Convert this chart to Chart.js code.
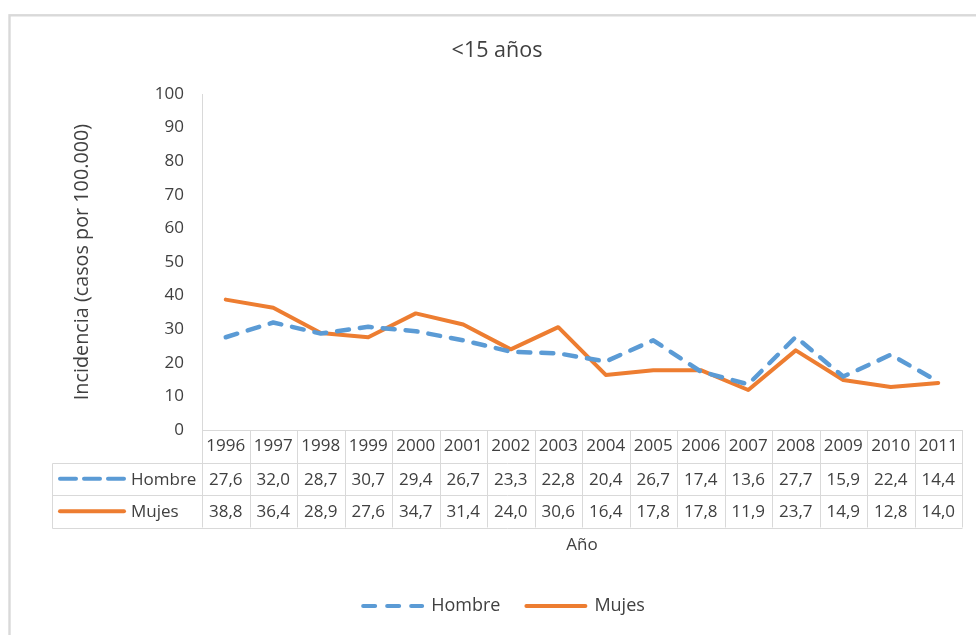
<!DOCTYPE html>
<html>
<head>
<meta charset="utf-8">
<script src="https://cdn.jsdelivr.net/npm/chart.js@4.4.1/dist/chart.umd.min.js"></script>
<style>
html,body{margin:0;padding:0;background:#ffffff;}
#wrap{width:976px;height:635px;position:relative;}
</style>
</head>
<body>
<div id="wrap"><canvas id="c" width="976" height="635"></canvas></div>
<script>
// ---- data ----
const years = ['1996','1997','1998','1999','2000','2001','2002','2003','2004','2005','2006','2007','2008','2009','2010','2011'];
const hombre = [27.6,32.0,28.7,30.7,29.4,26.7,23.3,22.8,20.4,26.7,17.4,13.6,27.7,15.9,22.4,14.4];
const mujes  = [38.8,36.4,28.9,27.6,34.7,31.4,24.0,30.6,16.4,17.8,17.8,11.9,23.7,14.9,12.8,14.0];
const seriesNames = ['Hombre','Mujes'];
const chartTitle = '<15 años';
const yAxisTitle = 'Incidencia (casos por 100.000)';
const xAxisTitle = 'Año';
const yMin = 0, yMax = 100, yStep = 10;

// ---- styles ----
const FONT = 'Open Sans';
const TEXT = '#404040';
const GRID = '#D9D9D9';
const BLUE = '#5B9BD5';
const ORANGE = '#ED7D31';

const fmt = v => v.toFixed(1).replace('.', ',');

const framePlugin = {
  id: 'frame',
  beforeDraw(chart) {
    const ctx = chart.ctx;
    ctx.save();
    ctx.fillStyle = '#ffffff';
    ctx.fillRect(0, 0, chart.width, chart.height);
    ctx.strokeStyle = GRID;
    ctx.lineWidth = 2.4;
    ctx.strokeRect(9.5, 15.3, 1100, 800);
    ctx.restore();
  }
};

const legendShift = {
  id: 'legendShift',
  afterLayout(chart) {
    if (chart.legend) { chart.legend.left += 7; chart.legend.right += 7; }
  }
};

const tablePlugin = {
  id: 'dataTable',
  afterDraw(chart) {
    const ctx = chart.ctx;
    const xs = chart.scales.x;
    const area = chart.chartArea;
    const n = years.length;
    const half = (xs.getPixelForValue(1) - xs.getPixelForValue(0)) / 2;
    const top = area.bottom;
    const rowH = 32.5;
    const r1 = top + rowH, r2 = top + 2 * rowH, r3 = top + 3 * rowH;
    const labLeft = 52;
    ctx.save();
    ctx.strokeStyle = GRID;
    ctx.lineWidth = 1;
    ctx.setLineDash([]);
    for (let i = 0; i <= n; i++) {
      const bx = Math.round(xs.getPixelForValue(Math.min(i, n - 1)) + (i === n ? half : -half)) + 0.5;
      ctx.beginPath(); ctx.moveTo(bx, top); ctx.lineTo(bx, r3); ctx.stroke();
    }
    const rightEdge = Math.round(xs.getPixelForValue(n - 1) + half) + 0.5;
    [r1, r2, r3].forEach(yy => {
      const y = Math.round(yy) + 0.5;
      ctx.beginPath(); ctx.moveTo(labLeft + 0.5, y); ctx.lineTo(rightEdge, y); ctx.stroke();
    });
    ctx.beginPath(); ctx.moveTo(labLeft + 0.5, Math.round(r1) + 0.5); ctx.lineTo(labLeft + 0.5, Math.round(r3) + 0.5); ctx.stroke();

    ctx.font = '17px "' + FONT + '"';
    ctx.fillStyle = TEXT;
    ctx.textAlign = 'center';
    ctx.textBaseline = 'middle';
    const rows = [hombre, mujes];
    rows.forEach((arr, r) => {
      const cy = top + rowH * (r + 1.5);
      arr.forEach((v, i) => ctx.fillText(fmt(v), xs.getPixelForValue(i), cy + 1));
    });
    const ds = chart.data.datasets;
    rows.forEach((arr, r) => {
      const cy = top + rowH * (r + 1.5);
      ctx.save();
      ctx.strokeStyle = ds[r].borderColor;
      ctx.lineWidth = 4;
      ctx.lineCap = 'round';
      ctx.setLineDash(r === 0 ? [16, 8] : []);
      ctx.beginPath(); ctx.moveTo(60, cy); ctx.lineTo(124, cy); ctx.stroke();
      ctx.restore();
      ctx.textAlign = 'left';
      ctx.fillStyle = TEXT;
      ctx.fillText(seriesNames[r], 131, cy + 1);
    });
    ctx.restore();
  }
};

new Chart(document.getElementById('c'), {
  type: 'line',
  data: {
    labels: years,
    datasets: [
      { label: seriesNames[0], data: hombre, borderColor: BLUE, backgroundColor: BLUE,
        borderWidth: 4.5, borderDash: [12, 11], borderCapStyle: 'round', borderJoinStyle: 'round',
        pointRadius: 0, pointHoverRadius: 0, tension: 0, fill: false },
      { label: seriesNames[1], data: mujes, borderColor: ORANGE, backgroundColor: ORANGE,
        borderWidth: 4, borderCapStyle: 'round', borderJoinStyle: 'round',
        pointRadius: 0, pointHoverRadius: 0, tension: 0, fill: false }
    ]
  },
  options: {
    responsive: false,
    animation: false,
    devicePixelRatio: 1,
    layout: { padding: { left: 18, right: 0, top: 0, bottom: 10 } },
    plugins: {
      title: { display: true, text: chartTitle, color: TEXT,
        font: { family: FONT, size: 21.5, weight: 'normal' }, padding: { top: 38, bottom: 30.2 } },
      legend: { display: true, position: 'bottom',
        labels: { usePointStyle: true, pointStyle: 'line', pointStyleWidth: 59, padding: 26,
          color: TEXT, font: { family: FONT, size: 18 },
          generateLabels(chart) {
            const items = Chart.defaults.plugins.legend.labels.generateLabels(chart);
            items.forEach((it, i) => {
              const d = chart.data.datasets[it.datasetIndex];
              it.lineDash = i === 0 ? [12, 12] : [];
              it.lineCap = 'round';
              it.lineWidth = 4;
              it.strokeStyle = d.borderColor;
              it.fillStyle = d.borderColor;
              it.pointStyle = 'line';
            });
            return items;
          } } },
      tooltip: { enabled: false }
    },
    scales: {
      x: {
        type: 'category', offset: true,
        grid: { display: false, drawTicks: false },
        border: { display: true, color: GRID, width: 1 },
        ticks: { padding: 6, autoSkip: false, maxRotation: 0, minRotation: 0, color: TEXT,
          font: { family: FONT, size: 17 } },
        title: { display: true, text: xAxisTitle, color: TEXT, font: { family: FONT, size: 17 },
          padding: { top: 0, bottom: 16 } },
        afterFit: s => { s.height = 141; }
      },
      y: {
        min: yMin, max: yMax,
        grid: { display: false, drawTicks: false },
        border: { display: true, color: GRID, width: 1 },
        ticks: { stepSize: yStep, padding: 18, color: TEXT, font: { family: FONT, size: 17 } },
        title: { display: true, text: yAxisTitle, color: TEXT, font: { family: FONT, size: 19.8 },
          padding: { top: 52, bottom: 0 } },
        afterFit: s => { s.width = 184; }
      },
      y2: {
        position: 'right', display: true,
        grid: { display: false, drawTicks: false },
        border: { display: false },
        ticks: { display: false },
        afterFit: s => { s.width = 14; }
      }
    }
  },
  plugins: [framePlugin, legendShift, tablePlugin]
});
</script>
</body>
</html>
